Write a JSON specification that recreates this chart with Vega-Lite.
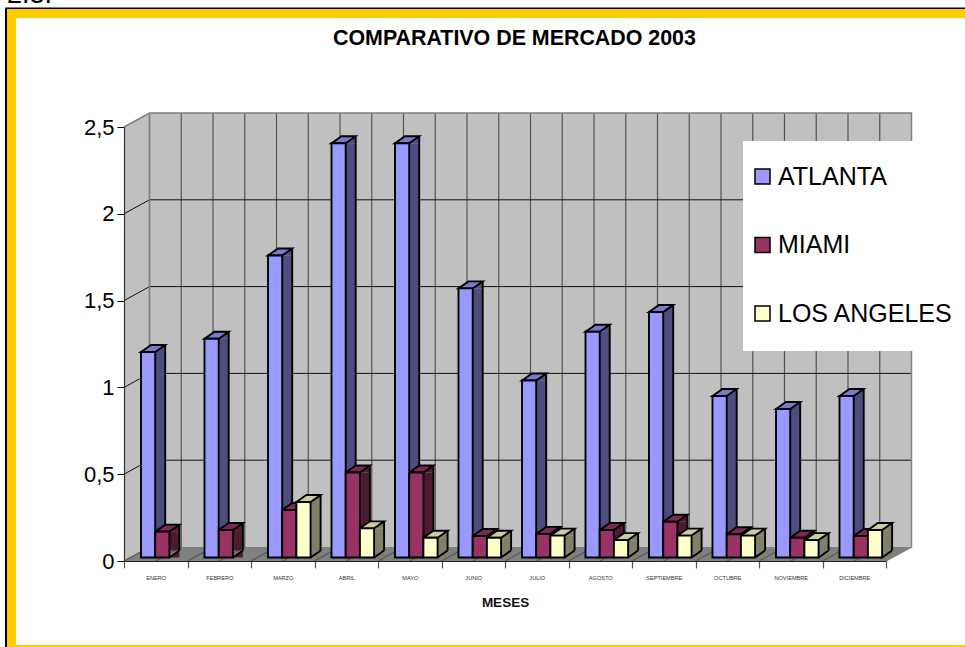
{
"$schema":"https://vega.github.io/schema/vega-lite/v6.json",
"width":762,"height":434,
"autosize":{"type":"none"},
"padding":{"left":124,"top":127,"right":79,"bottom":86},
"background":"#FFFFFF",
"view":{"stroke":null},
"config":{"font":"Liberation Sans"},
"datasets":{
"bars":[
{"month":"ENERO","series":"ATLANTA","value":1.184},{"month":"FEBRERO","series":"ATLANTA","value":1.26},{"month":"MARZO","series":"ATLANTA","value":1.74},{"month":"ABRIL","series":"ATLANTA","value":2.386},{"month":"MAYO","series":"ATLANTA","value":2.386},{"month":"JUNIO","series":"ATLANTA","value":1.55},{"month":"JULIO","series":"ATLANTA","value":1.02},{"month":"AGOSTO","series":"ATLANTA","value":1.3},{"month":"SEPTIEMBRE","series":"ATLANTA","value":1.414},{"month":"OCTUBRE","series":"ATLANTA","value":0.93},{"month":"NOVIEMBRE","series":"ATLANTA","value":0.855},{"month":"DICIEMBRE","series":"ATLANTA","value":0.93},
{"month":"ENERO","series":"MIAMI","value":0.149},{"month":"FEBRERO","series":"MIAMI","value":0.158},{"month":"MARZO","series":"MIAMI","value":0.274},{"month":"ABRIL","series":"MIAMI","value":0.49},{"month":"MAYO","series":"MIAMI","value":0.49},{"month":"JUNIO","series":"MIAMI","value":0.124},{"month":"JULIO","series":"MIAMI","value":0.136},{"month":"AGOSTO","series":"MIAMI","value":0.158},{"month":"SEPTIEMBRE","series":"MIAMI","value":0.206},{"month":"OCTUBRE","series":"MIAMI","value":0.134},{"month":"NOVIEMBRE","series":"MIAMI","value":0.114},{"month":"DICIEMBRE","series":"MIAMI","value":0.124},
{"month":"MARZO","series":"LOS ANGELES","value":0.32},{"month":"ABRIL","series":"LOS ANGELES","value":0.168},{"month":"MAYO","series":"LOS ANGELES","value":0.114},{"month":"JUNIO","series":"LOS ANGELES","value":0.114},{"month":"JULIO","series":"LOS ANGELES","value":0.126},{"month":"AGOSTO","series":"LOS ANGELES","value":0.1},{"month":"SEPTIEMBRE","series":"LOS ANGELES","value":0.126},{"month":"OCTUBRE","series":"LOS ANGELES","value":0.126},{"month":"NOVIEMBRE","series":"LOS ANGELES","value":0.1},{"month":"DICIEMBRE","series":"LOS ANGELES","value":0.158}
],
"months":[{"month":"ENERO"},{"month":"FEBRERO"},{"month":"MARZO"},{"month":"ABRIL"},{"month":"MAYO"},{"month":"JUNIO"},{"month":"JULIO"},{"month":"AGOSTO"},{"month":"SEPTIEMBRE"},{"month":"OCTUBRE"},{"month":"NOVIEMBRE"},{"month":"DICIEMBRE"}],
"grid":[{"level":0.5},{"level":1},{"level":1.5},{"level":2}],
"anchor":[{"label":"anchor"}]
},
"data":{"name":"bars"},
"title":{"text":"COMPARATIVO DE MERCADO 2003","font":"Liberation Sans","fontSize":21.4,"fontWeight":"bold","color":"#000000","anchor":"start","frame":"group","dx":209,"offset":-68},
"encoding":{
"x":{"field":"month","type":"nominal","sort":null,"scale":{"type":"band","domain":["ENERO","FEBRERO","MARZO","ABRIL","MAYO","JUNIO","JULIO","AGOSTO","SEPTIEMBRE","OCTUBRE","NOVIEMBRE","DICIEMBRE"],"paddingInner":0,"paddingOuter":0},"axis":{"orient":"bottom","title":"MESES","titleFont":"Liberation Sans","titleFontSize":13.5,"titleFontWeight":"bold","titleColor":"#111111","titlePadding":15,"labelFont":"Liberation Sans","labelFontSize":5.6,"labelColor":"#333333","labelAngle":0,"labelPadding":7,"labelOverlap":false,"labelFlush":false,"tickBand":"extent","tickSize":7,"tickColor":"#555555","tickWidth":1.2,"domainColor":"#222222","domainWidth":1.2,"grid":false,"zindex":1}}
},
"layer":[
{"data":{"name":"anchor"},"mark":{"type":"point","shape":"M-118,100 L-118,-552.5 L900,-552.5","size":4,"filled":false,"stroke":"#000000","strokeWidth":2,"opacity":1},"encoding":{"x":{"datum":"ENERO","type":"nominal","bandPosition":0},"y":{"datum":0,"scale":{"domain":[0,2.5],"nice":false},"axis":{"orient":"left","title":null,"values":[0,0.5,1,1.5,2,2.5],"labelExpr":"replace(format(datum.value,'~g'),'.',',')","labelFont":"Liberation Sans","labelFontSize":22,"labelColor":"#000000","labelPadding":3,"tickSize":7,"tickColor":"#000000","tickWidth":1,"domainColor":"#333333","domainWidth":1.2,"grid":false,"zindex":1}}}},
{"data":{"name":"anchor"},"mark":{"type":"point","shape":"M-112.5,88.5 L-112.5,-547.5 L900,-547.5 L900,88.5 Z","size":4,"filled":false,"stroke":"#FFCC00","strokeWidth":9,"opacity":1},"encoding":{"x":{"datum":"ENERO","type":"nominal","bandPosition":0},"y":{"datum":0}}},
{"data":{"name":"anchor"},"mark":{"type":"point","shape":"M0,0 L25.5,-14 L787.5,-14 L761.5,0 Z","size":4,"filled":true,"fill":"#808080","stroke":null,"opacity":1},"encoding":{"x":{"datum":"ENERO","type":"nominal","bandPosition":0},"y":{"datum":0}}},
{"data":{"name":"anchor"},"mark":{"type":"point","shape":"M0,0 L25.5,-14 L25.5,-448 L0,-434 Z M25.5,-14 L787.5,-14 L787.5,-448 L25.5,-448 Z","size":4,"filled":true,"fill":"#C0C0C0","stroke":null,"opacity":1},"encoding":{"x":{"datum":"ENERO","type":"nominal","bandPosition":0},"y":{"datum":0}}},
{"data":{"name":"months"},"mark":{"type":"point","shape":"M0,0 L25.5,-14 L25.5,-448","size":4,"filled":false,"stroke":"#555555","strokeWidth":1.2,"opacity":1},"encoding":{"x":{"field":"month","type":"nominal","bandPosition":0},"y":{"datum":0}}},
{"data":{"name":"months"},"mark":{"type":"point","shape":"M0,0 L25.5,-14 L25.5,-448","size":4,"filled":false,"stroke":"#555555","strokeWidth":1.2,"opacity":1},"encoding":{"x":{"field":"month","type":"nominal","bandPosition":0.5},"y":{"datum":0}}},
{"data":{"name":"grid"},"mark":{"type":"point","shape":"M0,0 L25.5,-14 L787.5,-14","size":4,"filled":false,"stroke":"#111111","strokeWidth":1,"opacity":1},"encoding":{"x":{"datum":"ENERO","type":"nominal","bandPosition":0},"y":{"field":"level","type":"quantitative"}}},
{"data":{"name":"anchor"},"mark":{"type":"point","shape":"M0,-434 L25.5,-448 L787.5,-448 L787.5,-14 L761.5,0 M25.5,-448 L25.5,-14","size":4,"filled":false,"stroke":"#808080","strokeWidth":1.5,"opacity":1},"encoding":{"x":{"datum":"ENERO","type":"nominal","bandPosition":0},"y":{"datum":0}}},
{"data":{"name":"anchor"},"mark":{"type":"point","shape":"M619,-420 L900,-420 L900,-210 L619,-210 Z","size":4,"filled":true,"fill":"#FFFFFF","stroke":null,"opacity":1},"encoding":{"x":{"datum":"ENERO","type":"nominal","bandPosition":0},"y":{"datum":0}}},
{"data":{"name":"anchor"},"mark":{"type":"text","text":"2.3.","font":"Liberation Sans","fontSize":27,"align":"left","baseline":"alphabetic","dx":-117,"dy":-558},"encoding":{"x":{"datum":"ENERO","type":"nominal","bandPosition":0},"y":{"datum":0}}},
{"mark":{"type":"bar","width":10.5,"yOffset":-3.5,"y2Offset":-10.5},"encoding":{"xOffset":{"field":"series","sort":null,"scale":{"type":"band","domain":["ATLANTA","MIAMI","LOS ANGELES"],"range":[29.15,71.75],"paddingInner":0,"paddingOuter":0}},"y":{"field":"value","type":"quantitative"},"y2":{"datum":0},"color":{"field":"series","legend":null,"scale":{"domain":["ATLANTA","MIAMI","LOS ANGELES"],"range":["#4D4D80","#4D1A33","#808066"]}}}},
{"mark":{"type":"point","shape":"M7.1,0 L17.1,0 L17.1,-7 Z","size":4,"filled":true,"stroke":null,"opacity":1,"yOffset":-3.5},"encoding":{"xOffset":{"field":"series","sort":null,"scale":{"type":"band","domain":["ATLANTA","MIAMI","LOS ANGELES"],"range":[17,59.6],"paddingInner":0,"paddingOuter":0}},"y":{"datum":0},"color":{"field":"series","legend":null,"scale":{"domain":["ATLANTA","MIAMI","LOS ANGELES"],"range":["#4D4D80","#4D1A33","#808066"]}}}},
{"mark":{"type":"point","shape":"M7.1,0 L17.1,-7 L17.1,0 Z","size":4,"filled":true,"stroke":null,"opacity":1,"yOffset":-3.5},"encoding":{"xOffset":{"field":"series","sort":null,"scale":{"type":"band","domain":["ATLANTA","MIAMI","LOS ANGELES"],"range":[17,59.6],"paddingInner":0,"paddingOuter":0}},"y":{"field":"value","type":"quantitative"},"color":{"field":"series","legend":null,"scale":{"domain":["ATLANTA","MIAMI","LOS ANGELES"],"range":["#4D4D80","#4D1A33","#808066"]}}}},
{"mark":{"type":"rule","stroke":"#000000","strokeWidth":1.9,"yOffset":-10.5,"y2Offset":-10.5},"encoding":{"xOffset":{"field":"series","sort":null,"scale":{"type":"band","domain":["ATLANTA","MIAMI","LOS ANGELES"],"range":[34.1,76.7],"paddingInner":0,"paddingOuter":0}},"y":{"field":"value","type":"quantitative"},"y2":{"datum":0}}},
{"mark":{"type":"point","shape":"M7.1,0 L17.1,-7","size":4,"filled":false,"stroke":"#000000","strokeWidth":1.9,"opacity":1,"yOffset":-3.5},"encoding":{"xOffset":{"field":"series","sort":null,"scale":{"type":"band","domain":["ATLANTA","MIAMI","LOS ANGELES"],"range":[17,59.6],"paddingInner":0,"paddingOuter":0}},"y":{"datum":0}}},
{"mark":{"type":"point","shape":"M-7.1,0 L7.1,0 L17.1,-7 L2.9,-7 Z","size":4,"filled":true,"stroke":"#000000","strokeWidth":1.9,"opacity":1,"yOffset":-3.5},"encoding":{"xOffset":{"field":"series","sort":null,"scale":{"type":"band","domain":["ATLANTA","MIAMI","LOS ANGELES"],"range":[17,59.6],"paddingInner":0,"paddingOuter":0}},"y":{"field":"value","type":"quantitative"},"color":{"field":"series","legend":null,"scale":{"domain":["ATLANTA","MIAMI","LOS ANGELES"],"range":["#7A7ACC","#7A2952","#CCCCA3"]}}}},
{"mark":{"type":"bar","stroke":"#000000","strokeWidth":1.9,"yOffset":-3.5,"y2Offset":-3.5},"encoding":{"xOffset":{"field":"series","sort":null,"scale":{"type":"band","domain":["ATLANTA","MIAMI","LOS ANGELES"],"range":[17,59.6],"paddingInner":0,"paddingOuter":0}},"y":{"field":"value","type":"quantitative"},"y2":{"datum":0},"color":{"field":"series","sort":null,"scale":{"domain":["ATLANTA","MIAMI","LOS ANGELES"],"range":["#9999FF","#993366","#FFFFCC"]},"legend":{"orient":"none","legendX":626,"legendY":37,"title":null,"padding":0,"symbolType":"square","symbolSize":225,"symbolStrokeColor":"#000000","symbolStrokeWidth":1.5,"labelFont":"Liberation Sans","labelFontSize":25,"labelColor":"#000000","labelOffset":3,"rowPadding":42.5,"labelLimit":300}}}}
],
"resolve":{"scale":{"color":"independent","xOffset":"independent"}}
}
